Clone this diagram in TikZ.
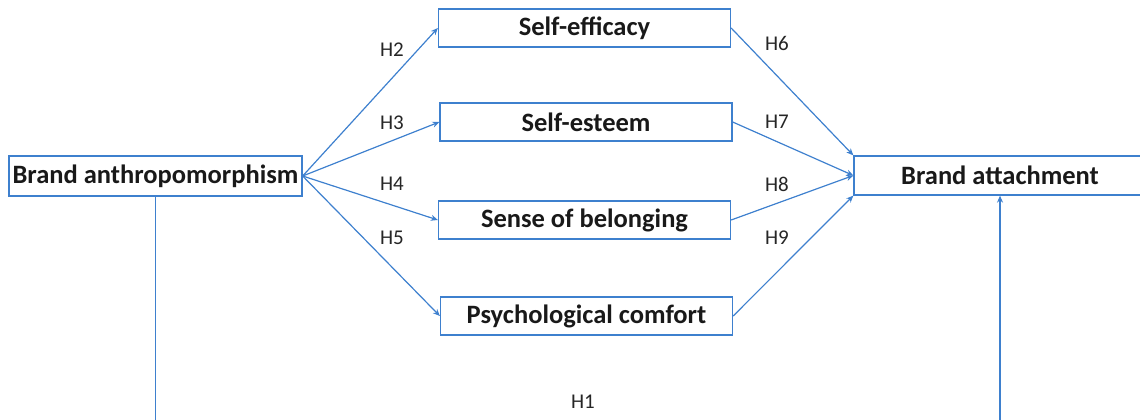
\documentclass[tikz,border=0pt]{standalone}
\usepackage{fontspec}
\setmainfont{Carlito}
\usepackage{xcolor}
\usetikzlibrary{arrows.meta,positioning}
\definecolor{linkblue}{RGB}{62,128,206}

\begin{document}
\begin{tikzpicture}[x=1pt, y=-1pt,
    construct/.style={draw=linkblue, line width=1.3pt, fill=white, minimum width=292pt,
        minimum height=38pt, inner sep=0pt, text=black!90,
        font=\fontsize{26.5}{30}\selectfont\bfseries},
    link/.style={draw=linkblue, line width=1.2pt, -{Stealth[length=7pt, width=6pt]}},
    hyp/.style={text=black!85, font=\fontsize{21}{24}\selectfont}]
    \useasboundingbox (0,0) rectangle (1140,420);

    % Antecedent and outcome
    \node[construct, minimum width=293pt, minimum height=40pt] (anthro) at (155.5,176) {Brand anthropomorphism};
    \node[construct, minimum height=39pt] (attach) at (1000,175.5) {Brand attachment};

    % Mediators
    \node[construct] (efficacy) at (584.5,28) {Self-efficacy};
    \node[construct] (esteem) at (586,122) {Self-esteem};
    \node[construct] (belong) at (584.5,220) {Sense of belonging};
    \node[construct] (comfort) at (586.5,316) {Psychological comfort};

    % Paths to mediators
    \draw[link] (anthro.east) -- (efficacy.west);
    \draw[link] (anthro.east) -- (esteem.west);
    \draw[link] (anthro.east) -- (belong.west);
    \draw[link] (anthro.east) -- (comfort.west);

    % Paths to outcome
    \draw[link] (efficacy.east) -- (attach.north west);
    \draw[link] (esteem.east) -- (attach.west);
    \draw[link] (belong.east) -- (attach.west);
    \draw[link] (comfort.east) -- (attach.south west);

    % Direct path (H1)
    \coordinate (footleft) at (155.5,422);
    \coordinate (footright) at (1000,422);
    \draw[draw=linkblue, line width=1.2pt] (anthro.south) -- (footleft);
    \draw[link] (footright) -- (attach.south);

    % Hypothesis labels
    \node[hyp] (h1) at (583,402) {H1};
    \node[hyp] (h2) at (392,50) {H2};
    \node[hyp] (h3) at (392,123) {H3};
    \node[hyp] (h4) at (392,184) {H4};
    \node[hyp] (h5) at (392,238) {H5};
    \node[hyp] (h6) at (777,43) {H6};
    \node[hyp] (h7) at (777,122) {H7};
    \node[hyp] (h8) at (777,184) {H8};
    \node[hyp] (h9) at (777,238) {H9};
\end{tikzpicture}
\end{document}
